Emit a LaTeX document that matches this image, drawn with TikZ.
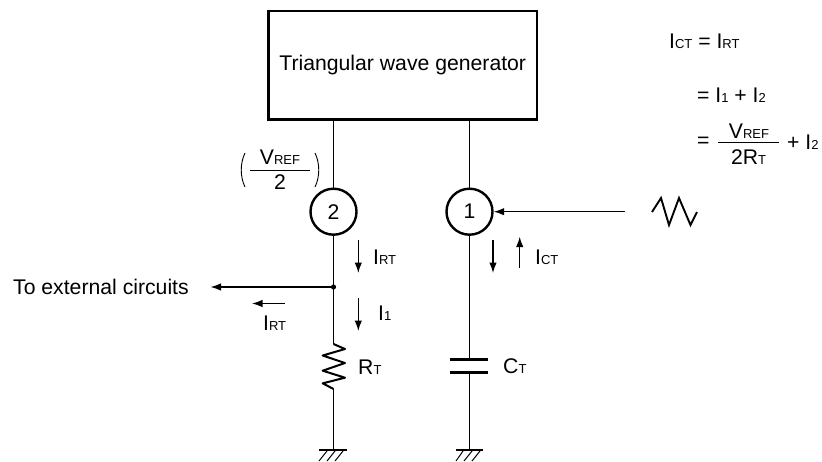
\documentclass[tikz,border=0pt]{standalone}
\usepackage{fontspec}
\setmainfont{Liberation Sans}
\usetikzlibrary{arrows.meta}
\newcommand{\mainsz}{\fontsize{21.2}{24}\selectfont}
\newcommand{\subt}[1]{{\fontsize{13}{15}\selectfont #1}}
\tikzset{
  x=1pt,y=-1pt,
  wire/.style={line width=1.4pt,black},
  arr/.style={line width=1.3pt,black,-{Latex[length=10.5pt,width=7.5pt]}},
  lbl/.style={inner sep=0pt,font=\mainsz,text=black},
  pin/.style={circle,draw,line width=2.4pt,minimum size=46pt,inner sep=0pt,font=\mainsz},
  gnd/.style={line width=1pt},
}
\begin{document}
\begin{tikzpicture}
\useasboundingbox (0,0) rectangle (822,461);
\node[draw,line width=2.8pt,minimum width=268.5pt,minimum height=108.5pt,inner sep=0pt,font=\mainsz] (gen) at (402.75,65.25) {Triangular wave generator};
\node[pin] (p2) at (333.5,211.7) {2};
\node[pin] (p1) at (469.5,211.7) {1};
\coordinate (top2) at (333.5,120);
\coordinate (top1) at (469.5,120);
\draw[wire] (top2) -- (p2.north);
\draw[wire] (top1) -- (p1.north);
% junction
\coordinate (j) at (333.5,287);
\fill (j) circle (2.6pt);
\node[lbl,anchor=west] (ext) at (13,287) {To external circuits};
\draw[arr] (j) -- (210.5,287);
\draw[wire] (p2.south) -- (j) -- (333.5,344);
\draw[line width=2pt,line join=round] (333.5,344) -- (345,349) -- (322.7,355.5) -- (345,363) -- (322.7,370.7) -- (345,377.7) -- (322.7,383.3) -- (333.5,389);
\draw[wire] (333.5,389) -- (333.5,450);
% ground 2
\draw[line width=2pt] (319,450) -- (347,450);
\draw[gnd] (327,451) -- (319,461) (335,451) -- (327,461) (343,451) -- (335,461);
% right branch
\draw[wire] (p1.south) -- (469.5,359);
\draw[line width=2.6pt] (450,359.3) -- (488,359.3);
\draw[line width=2.6pt] (450,372.3) -- (488,372.3);
\draw[wire] (469.5,372.5) -- (469.5,450);
\draw[line width=2pt] (456,450) -- (483,450);
\draw[gnd] (463,451) -- (456,461) (472,451) -- (464,461) (480,451) -- (472,461);
% wave and input arrow
\coordinate (w) at (625,211.7);
\draw[arr] (w) -- (p1.east);
\draw[line width=1.9pt,line join=miter] (652,212) -- (661,198) -- (669,225) -- (679,198) -- (690.5,225) -- (697,212);
% current arrows
\draw[arr] (358.3,240) -- (358.3,273);
\draw[arr] (358.3,298) -- (358.3,331);
\draw[arr] (285,303.5) -- (252,303.5);
\draw[arr] (493,240) -- (493,273);
\draw[arr] (519.7,268) -- (519.7,236.7);
% labels
\node[lbl,anchor=west] (l1) at (373,257) {I\subt{RT}};
\node[lbl,anchor=west] (l2) at (378,313) {I\subt{1}};
\node[lbl,anchor=west] (l3) at (263,323.5) {I\subt{RT}};
\node[lbl,anchor=west] (l4) at (358,367) {R\subt{T}};
\node[lbl,anchor=west] (l5) at (503,366.5) {C\subt{T}};
\node[lbl,anchor=west] (l6) at (535,257) {I\subt{CT}};
% reference fraction
\node[lbl] (v1) at (280,157.5) {V\subt{REF}};
\draw[line width=1.2pt] (250,170.7) -- (310,170.7);
\node[lbl] (v2) at (280,182) {2};
\draw[line width=0.9pt] (245,153) .. controls (240,163) and (240,177) .. (245,187);
\draw[line width=0.9pt] (315,153) .. controls (320,163) and (320,177) .. (315,187);
% formulae
\node[lbl,anchor=west] (f1) at (669,41.7) {I\subt{CT} = I\subt{RT}};
\node[lbl,anchor=west] (f2) at (697,95) {= I\subt{1} + I\subt{2}};
\node[lbl,anchor=west] (f3) at (697,142.5) {=};
\node[lbl] (f4) at (749,131.7) {V\subt{REF}};
\draw[line width=1.2pt] (718,142.5) -- (779,142.5);
\node[lbl] (f5) at (748.6,157.3) {2R\subt{T}};
\node[lbl,anchor=west] (f6) at (787,142.5) {+ I\subt{2}};
\end{tikzpicture}
\end{document}
